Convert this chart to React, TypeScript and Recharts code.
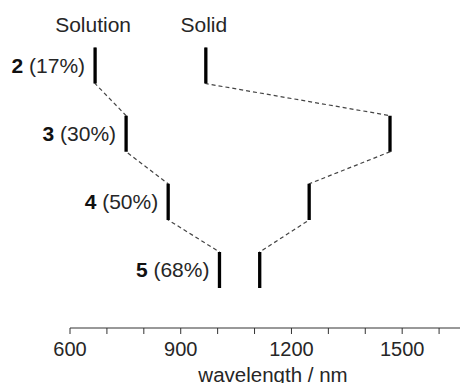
import { ComposedChart, Line, Scatter, XAxis, YAxis } from "recharts";

const compounds = ["2", "3", "4", "5"];
const yields = ["17%", "30%", "50%", "68%"];
const solutionNm = [668, 752, 866, 1005];
const solidNm = [968, 1467, 1248, 1114];
const headers = ["Solution", "Solid"];
const xTicks = [600, 700, 800, 900, 1000, 1100, 1200, 1300, 1400, 1500, 1600, 1700];

const FONT = "'Liberation Sans', Arial, sans-serif";
const INK = "#262626";
const HALF = 0.265; // half length of each band marker, in row units
const HEADER_ROW = 1.4;

interface Pt {
  x: number;
  y: number | null;
}

function bars(nm: number[]): Pt[] {
  return nm.flatMap((x, i) => {
    const row = Number(compounds[i]);
    return [
      { x, y: row - HALF },
      { x, y: row + HALF },
      { x, y: null },
    ];
  });
}

function zigzag(nm: number[]): Pt[] {
  return nm.flatMap((x, i) => {
    const row = Number(compounds[i]);
    return [
      { x, y: row - HALF },
      { x, y: row + HALF },
    ];
  });
}

const rowLabels = compounds.map((id, i) => ({ x: solutionNm[i], y: Number(id), id, pct: yields[i] }));
const headerLabels = [
  { x: solutionNm[0], y: HEADER_ROW, text: headers[0] },
  { x: solidNm[0], y: HEADER_ROW, text: headers[1] },
];

function RowLabel(props: any) {
  const { cx, cy, payload } = props;
  return (
    <text x={cx - 10} y={cy} dy="0.35em" textAnchor="end" fontFamily={FONT} fontSize={21} fill={INK}>
      <tspan fontWeight="bold" fill="#111">{payload.id}</tspan>
      <tspan> ({payload.pct})</tspan>
    </text>
  );
}

function HeaderLabel(props: any) {
  const { cx, cy, payload } = props;
  return (
    <text x={cx - 2} y={cy} dy="0.35em" textAnchor="middle" fontFamily={FONT} fontSize={21} fill={INK}>
      {payload.text}
    </text>
  );
}

export default function App() {
  return (
    <>
      <style>{"html,body{overflow:hidden}"}</style>
      <div style={{ width: 460, height: 375, overflow: "hidden" }}>
        <ComposedChart width={470} height={375} margin={{ top: 3, right: 2, bottom: 0, left: 62 }}>
          <XAxis
            dataKey="x"
            type="number"
            domain={[600, 1700]}
            ticks={xTicks}
            interval={0}
            height={55}
            tickSize={6}
            tickMargin={8}
            stroke="#333"
            tick={{ fill: INK, fontSize: 20, fontFamily: FONT }}
            tickFormatter={(v: number) => (v % 300 === 0 ? String(v) : "")}
            label={{ value: "wavelength / nm", position: "insideBottom", offset: 1, fill: INK, fontSize: 20.5, fontFamily: FONT }}
          />
          <YAxis dataKey="y" type="number" domain={[1.2, 5.85]} reversed hide />
          <Line data={zigzag(solutionNm)} dataKey="y" type="linear" stroke="#444" strokeWidth={1.2} strokeDasharray="4 3" dot={false} isAnimationActive={false} />
          <Line data={zigzag(solidNm)} dataKey="y" type="linear" stroke="#444" strokeWidth={1.2} strokeDasharray="4 3" dot={false} isAnimationActive={false} />
          <Line data={bars(solutionNm)} dataKey="y" type="linear" stroke="#000" strokeWidth={3.3} dot={false} isAnimationActive={false} />
          <Line data={bars(solidNm)} dataKey="y" type="linear" stroke="#000" strokeWidth={3.3} dot={false} isAnimationActive={false} />
          <Scatter data={rowLabels} shape={RowLabel} isAnimationActive={false} />
          <Scatter data={headerLabels} shape={HeaderLabel} isAnimationActive={false} />
        </ComposedChart>
      </div>
    </>
  );
}
